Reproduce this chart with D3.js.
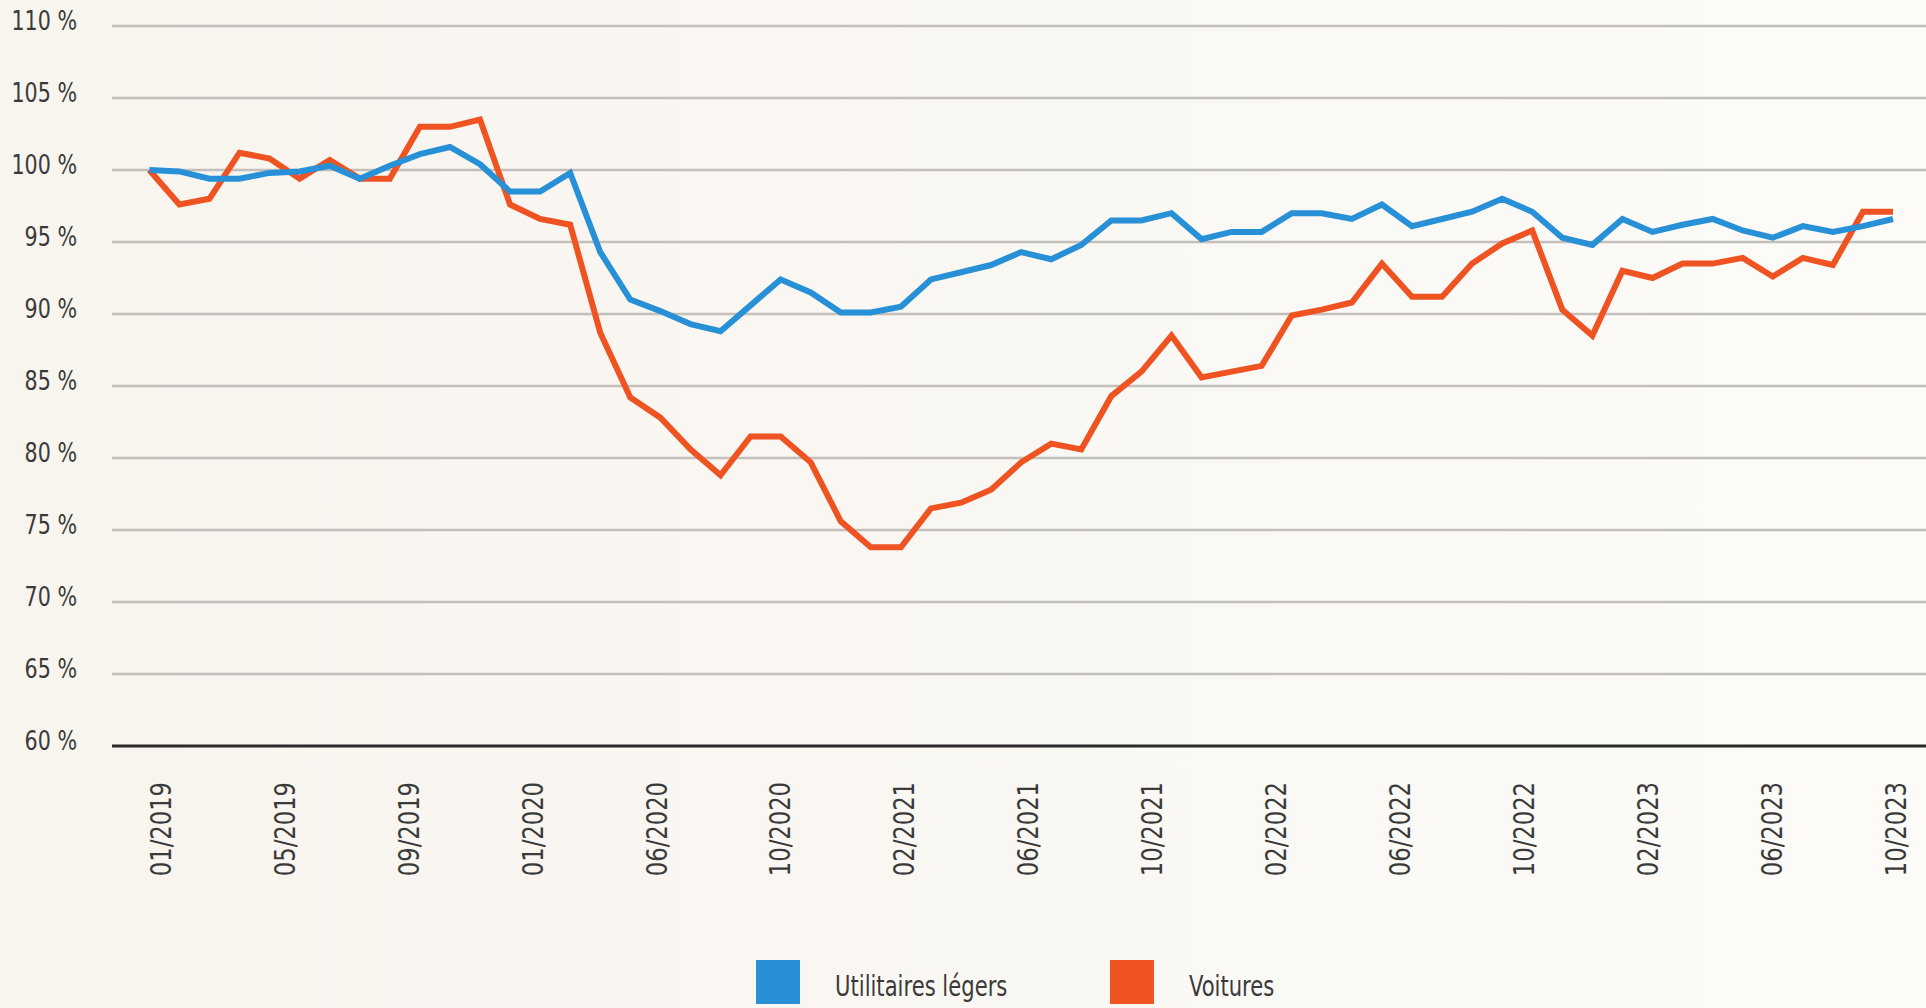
<!DOCTYPE html>
<html>
<head>
<meta charset="utf-8">
<script src="https://cdn.jsdelivr.net/npm/d3@7"></script>
<style>
  html, body { margin: 0; padding: 0; }
  body { width: 1926px; height: 1008px; overflow: hidden; background: #faf7f2; }
  svg text { font-family: 'Liberation Sans Narrow', 'DejaVu Sans Condensed', 'DejaVu Sans', sans-serif; font-stretch: condensed; fill: #3a3a3a; }
</style>
</head>
<body>
<svg id="chart" width="1926" height="1008"></svg>
<script>
// monthly index, 100 % = 01/2019
const utilitaires = [
  100.0, 99.9, 99.4, 99.4, 99.8, 99.9, 100.3, 99.4, 100.3, 101.1,
  101.6, 100.4, 98.5, 98.5, 99.8, 94.3, 91.0, 90.2, 89.3, 88.8,
  90.6, 92.4, 91.5, 90.1, 90.1, 90.5, 92.4, 92.9, 93.4, 94.3,
  93.8, 94.8, 96.5, 96.5, 97.0, 95.2, 95.7, 95.7, 97.0, 97.0,
  96.6, 97.6, 96.1, 96.6, 97.1, 98.0, 97.1, 95.3, 94.8, 96.6,
  95.7, 96.2, 96.6, 95.8, 95.3, 96.1, 95.7, 96.1, 96.6
];
const voitures = [
  100.0, 97.6, 98.0, 101.2, 100.8, 99.4, 100.7, 99.4, 99.4, 103.0,
  103.0, 103.5, 97.6, 96.6, 96.2, 88.7, 84.2, 82.8, 80.6, 78.8,
  81.5, 81.5, 79.7, 75.6, 73.8, 73.8, 76.5, 76.9, 77.8, 79.7,
  81.0, 80.6, 84.3, 86.0, 88.5, 85.6, 86.0, 86.4, 89.9, 90.3,
  90.8, 93.5, 91.2, 91.2, 93.5, 94.9, 95.8, 90.3, 88.5, 93.0,
  92.5, 93.5, 93.5, 93.9, 92.6, 93.9, 93.4, 97.1, 97.1
];
const xLabels = ['01/2019', '05/2019', '09/2019', '01/2020', '06/2020', '10/2020', '02/2021',
  '06/2021', '10/2021', '02/2022', '06/2022', '10/2022', '02/2023', '06/2023', '10/2023'];
const yTicks = [60, 65, 70, 75, 80, 85, 90, 95, 100, 105, 110];
const seriesNames = ['Utilitaires légers', 'Voitures'];
const colors = ['#2790d6', '#ef5322'];

const svg = d3.select('#chart');

// faint warm background, a touch lighter on the right
const grad = svg.append('defs').append('linearGradient').attr('id', 'bg');
grad.append('stop').attr('offset', '0%').attr('stop-color', '#f8f4ee');
grad.append('stop').attr('offset', '100%').attr('stop-color', '#fcfbf8');
svg.append('rect').attr('width', 1926).attr('height', 1008).attr('fill', 'url(#bg)');

const gridLeft = 112, gridRight = 1926;
const x = d3.scaleLinear().domain([0, voitures.length - 1]).range([149.3, 1893]);
const y = d3.scaleLinear().domain([60, 110]).range([746, 26]);
const xl = d3.scalePoint().domain(xLabels).range([x(0) + 11, x(voitures.length - 1) + 2]);

// the original uses a condensed face; squeeze whatever font we got
function condense(sel, k) {
  sel.each(function() {
    const w = this.getComputedTextLength();
    d3.select(this).attr('textLength', w * k).attr('lengthAdjust', 'spacingAndGlyphs');
  });
}

// grid
svg.append('g')
  .selectAll('line')
  .data(yTicks)
  .join('line')
    .attr('x1', gridLeft)
    .attr('x2', gridRight)
    .attr('y1', d => y(d))
    .attr('y2', d => y(d))
    .attr('stroke', d => d === 60 ? '#2a2a2a' : '#c3c0bb')
    .attr('stroke-width', d => d === 60 ? 3 : 2.5);

// y labels
const yAxis = svg.append('g')
  .attr('transform', 'translate(' + gridLeft + ',0)')
  .call(d3.axisLeft(y).tickValues(yTicks).tickSize(0).tickPadding(35).tickFormat(d => d + ' %'));
yAxis.select('.domain').remove();
yAxis.selectAll('text')
  .attr('dy', '0.12em')
  .style('font-size', '27px')
  .call(condense, 0.85);

// x labels, rotated
const xAxis = svg.append('g')
  .attr('transform', 'translate(0,782)')
  .call(d3.axisBottom(xl).tickSize(0).tickPadding(0));
xAxis.select('.domain').remove();
xAxis.selectAll('text')
  .attr('transform', 'rotate(-90)')
  .attr('text-anchor', 'end')
  .attr('x', 0)
  .attr('y', 0)
  .attr('dy', '0.36em')
  .style('font-size', '28px')
  .call(condense, 0.9);

// lines
const line = d3.line()
  .x((d, i) => x(i))
  .y(d => y(d));

[voitures, utilitaires].forEach((s, k) => {
  svg.append('path')
    .datum(s)
    .attr('d', line)
    .attr('fill', 'none')
    .attr('stroke', colors[1 - k])
    .attr('stroke-width', 6)
    .attr('stroke-linejoin', 'miter')
    .attr('stroke-miterlimit', 3);
});

// legend
const legendX = [756, 1110];
const legend = svg.append('g')
  .selectAll('g')
  .data(seriesNames)
  .join('g')
    .attr('transform', (d, i) => 'translate(' + legendX[i] + ',960)');
legend.append('rect')
  .attr('width', 44)
  .attr('height', 44)
  .attr('fill', (d, i) => colors[i]);
legend.append('text')
  .attr('x', 79)
  .attr('y', 36)
  .style('font-size', '29px')
  .text(d => d)
  .call(condense, 0.81);
</script>
</body>
</html>
